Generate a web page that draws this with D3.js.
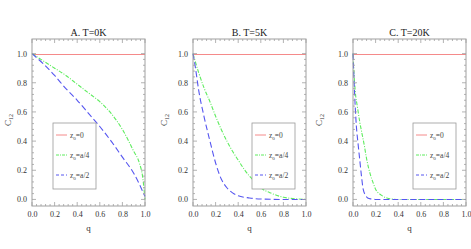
<!DOCTYPE html>
<html><head><meta charset="utf-8">
<script src="https://cdn.jsdelivr.net/npm/d3@7/dist/d3.min.js"></script>
<style>body{margin:0;background:#fff}svg{display:block}text{font-family:"Liberation Serif","DejaVu Serif",serif}</style>
</head><body><svg id="c" width="471" height="249"></svg>
<script>
const titles = ["A.  T=0K", "B.  T=5K", "C.  T=20K"];
const seriesNames = ["z0=0", "z0=a/4", "z0=a/2"];
const xTicks = [0, 0.2, 0.4, 0.6, 0.8, 1.0];
const yTicks = [0, 0.2, 0.4, 0.6, 0.8, 1.0];
const legendLabels = ["0", "a/4", "a/2"];
// Panel A (T=0K)
const qA_red = [0, 1];
const cA_red = [1, 1];
const qA_green = [0, 0.1, 0.2, 0.3, 0.4, 0.5, 0.6, 0.7, 0.8, 0.9, 0.95, 0.98, 1.0];
const cA_green = [1, 0.95, 0.9, 0.85, 0.79, 0.73, 0.67, 0.59, 0.48, 0.33, 0.25, 0.15, 0.0];
const qA_blue = [0, 0.1, 0.2, 0.3, 0.4, 0.5, 0.6, 0.7, 0.8, 0.9, 1.0];
const cA_blue = [1, 0.93, 0.85, 0.76, 0.68, 0.59, 0.50, 0.40, 0.29, 0.18, 0.02];
// Panel B (T=5K)
const qB_red = [0, 1];
const cB_red = [1, 1];
const qB_green = [0, 0.05, 0.1, 0.15, 0.2, 0.25, 0.3, 0.35, 0.4, 0.45, 0.5, 0.55, 0.6, 0.7, 0.8, 0.9, 1.0];
const cB_green = [1, 0.87, 0.76, 0.67, 0.57, 0.48, 0.40, 0.33, 0.27, 0.21, 0.16, 0.12, 0.08, 0.04, 0.015, 0.005, 0];
const qB_blue = [0, 0.02, 0.05, 0.1, 0.15, 0.2, 0.25, 0.3, 0.35, 0.4, 0.5, 0.6, 0.8, 1.0];
const cB_blue = [1, 0.91, 0.75, 0.56, 0.40, 0.25, 0.14, 0.08, 0.045, 0.025, 0.01, 0.003, 0, 0];
// Panel C (T=20K)
const qC_red = [0, 1];
const cC_red = [1, 1];
const qC_green = [0, 0.01, 0.02, 0.04, 0.06, 0.08, 0.1, 0.12, 0.15, 0.18, 0.2, 0.25, 0.3, 0.4, 1.0];
const cC_green = [1, 0.85, 0.74, 0.63, 0.53, 0.45, 0.37, 0.28, 0.18, 0.11, 0.07, 0.03, 0.01, 0, 0];
const qC_blue = [0, 0.01, 0.02, 0.03, 0.045, 0.06, 0.075, 0.09, 0.11, 0.13, 0.16, 0.2, 1.0];
const cC_blue = [1, 0.8, 0.63, 0.5, 0.38, 0.27, 0.16, 0.07, 0.03, 0.01, 0.003, 0, 0];

const panels = [
  {x0: 32, x1: 145, legX: 53, red: [qA_red, cA_red], green: [qA_green, cA_green], blue: [qA_blue, cA_blue], ylabX: 11},
  {x0: 193, x1: 306, legX: 252, red: [qB_red, cB_red], green: [qB_green, cB_green], blue: [qB_blue, cB_blue], ylabX: 167},
  {x0: 353, x1: 466, legX: 413, red: [qC_red, cC_red], green: [qC_green, cC_green], blue: [qC_blue, cC_blue], ylabX: 322}
];
const styles = [
  {key: "red", color: "#f58a8a", dash: null},
  {key: "green", color: "#5fec5f", dash: "4,1.5,1,1.5"},
  {key: "blue", color: "#5656f0", dash: "6,3"}
];
const svg = d3.select("#c");
const yTop = 39, yBot = 206;
const frameCol = "#a0a0a0";

panels.forEach((p, i) => {
  const x = d3.scaleLinear().domain([0, 1]).range([p.x0, p.x1]);
  const y = d3.scaleLinear().domain([-0.045, 1.1]).range([yBot, yTop]);
  const g = svg.append("g");
  // series
  styles.forEach(s => {
    const [qs, cs] = p[s.key];
    const pts = qs.map((q, k) => [q, cs[k]]);
    g.append("path").datum(pts)
      .attr("d", d3.line().x(d => x(d[0])).y(d => s.key === "red" ? Math.round(y(d[1])) + 0.5 : y(d[1])).curve(d3.curveMonotoneX))
      .attr("fill", "none").attr("stroke", s.color).attr("stroke-width", 1.1)
      .attr("stroke-dasharray", s.dash);
  });
  // frame
  g.append("rect").attr("x", p.x0).attr("y", yTop).attr("width", p.x1 - p.x0).attr("height", yBot - yTop)
    .attr("fill", "none").attr("stroke", frameCol).attr("stroke-width", 1);
  // ticks (all sides, inward)
  const minor = d3.range(0, 1.0001, 0.04);
  const tk = g.append("g").attr("stroke", frameCol).attr("stroke-width", 0.8);
  minor.forEach(v => {
    const major = xTicks.some(t => Math.abs(t - v) < 1e-6);
    const L = major ? 4 : 2;
    tk.append("line").attr("x1", x(v)).attr("x2", x(v)).attr("y1", yBot).attr("y2", yBot - L);
    tk.append("line").attr("x1", x(v)).attr("x2", x(v)).attr("y1", yTop).attr("y2", yTop + L);
    tk.append("line").attr("y1", y(v)).attr("y2", y(v)).attr("x1", p.x0).attr("x2", p.x0 + L);
    tk.append("line").attr("y1", y(v)).attr("y2", y(v)).attr("x1", p.x1).attr("x2", p.x1 - L);
  });
  // tick labels
  const xa = d3.axisBottom(x).tickValues(xTicks).tickFormat(d3.format(".1f")).tickSize(0).tickPadding(5);
  const gx = g.append("g").attr("transform", `translate(0,${yBot})`).call(xa);
  gx.select(".domain").remove();
  gx.selectAll("text").attr("font-size", 8).attr("fill", "#333").attr("font-family", "Liberation Serif");
  const ya = d3.axisLeft(y).tickValues(yTicks).tickFormat(d3.format(".1f")).tickSize(0).tickPadding(5);
  const gy = g.append("g").attr("transform", `translate(${p.x0},0)`).call(ya);
  gy.select(".domain").remove();
  gy.selectAll("text").attr("font-size", 8).attr("fill", "#333").attr("font-family", "Liberation Serif");
  // title
  g.append("text").attr("x", (p.x0 + p.x1) / 2).attr("y", 36).attr("text-anchor", "middle")
    .attr("font-size", 10).attr("fill", "#222").text(titles[i]);
  // x label
  g.append("text").attr("x", (p.x0 + p.x1) / 2).attr("y", 231).attr("text-anchor", "middle")
    .attr("font-size", 9).attr("fill", "#333").text("q");
  // y label
  const yl = g.append("text").attr("transform", `translate(${p.ylabX},120) rotate(-90)`)
    .attr("text-anchor", "middle").attr("font-size", 9).attr("fill", "#333");
  yl.append("tspan").text("C");
  yl.append("tspan").attr("font-size", 6).attr("dy", 2).text("12");
  // legend
  const lg = g.append("g").attr("transform", `translate(${p.legX},123)`);
  lg.append("rect").attr("width", 43).attr("height", 66).attr("fill", "#fff").attr("stroke", "#999").attr("stroke-width", 0.8);
  styles.forEach((s, k) => {
    const ly = 12 + k * 20;
    lg.append("line").attr("x1", 3).attr("x2", 14).attr("y1", ly).attr("y2", ly)
      .attr("stroke", s.color).attr("stroke-width", 1).attr("stroke-dasharray", s.dash ? (k === 1 ? "3,1,1,1" : "3,2") : null);
    const t = lg.append("text").attr("x", 17).attr("y", ly + 3).attr("font-size", 7.5).attr("fill", "#444");
    t.append("tspan").text("z");
    t.append("tspan").attr("font-size", 5).attr("dy", 1.5).text("0");
    t.append("tspan").attr("dy", -1.5).text("=" + legendLabels[k]);
  });
});
</script></body></html>
